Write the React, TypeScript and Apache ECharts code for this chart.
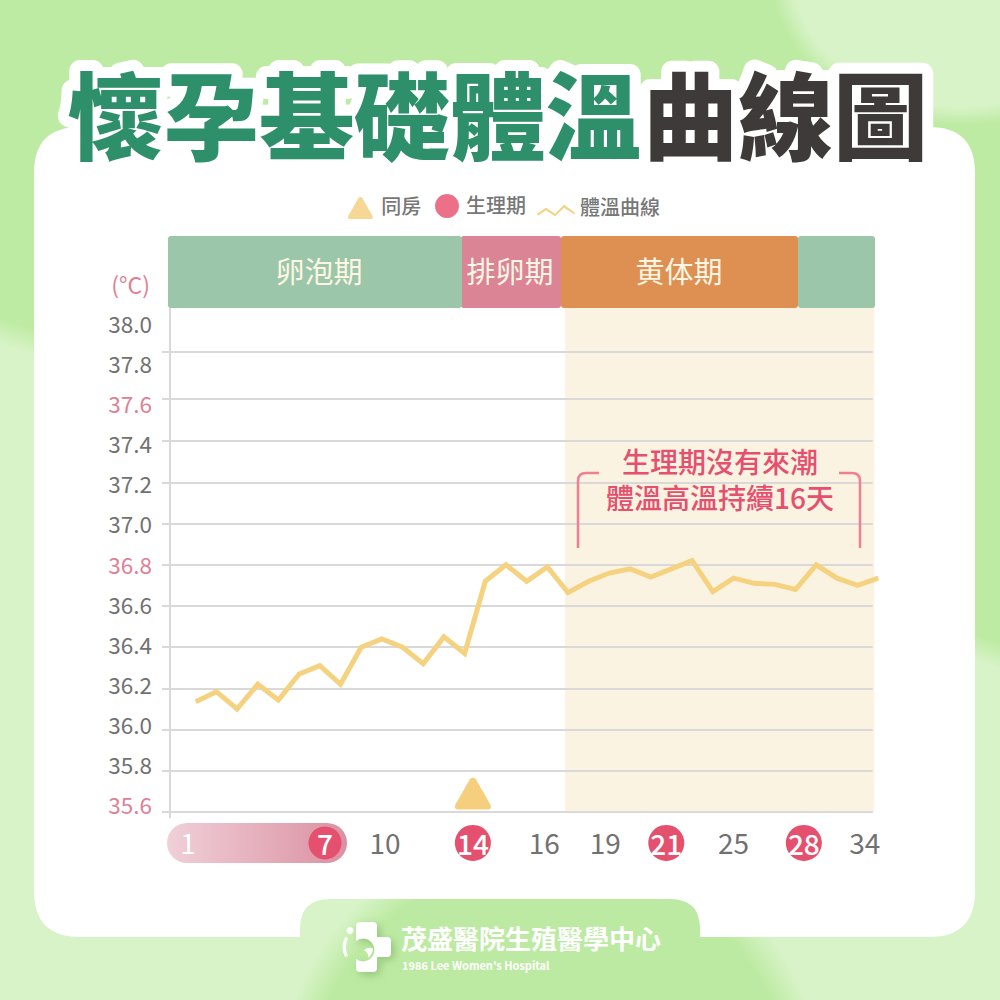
import React, { useEffect, useRef } from "react";
import * as echarts from "echarts";

const days = ["1","2","3","4","5","6","7","8","9","10","11","12","13","14","15","16","17","18","19","20","21","22","23","24","25","26","27","28","29","30","31","32","33","34"];
const temperatures = [36.135,36.184,36.1,36.22,36.144,36.27,36.31,36.22,36.4,36.44,36.4,36.32,36.45,36.37,36.72,36.8,36.72,36.79,36.665,36.72,36.76,36.78,36.74,36.78,36.82,36.67,36.735,36.71,36.705,36.68,36.8,36.735,36.7,36.735];
const gridLevels = [35.6,35.8,36.0,36.2,36.4,36.6,36.8,37.0,37.2,37.4,37.605,37.833];
const pinkTicks = ["37.6","36.8","35.6"];
const periodLabels = ["7","14","21","28"];
const periodPositions = [7.25,14.4,23.75,30.4];
const periodSizes = [33,36,36,36];
const plainLabels = ["1","10","16","19","25","34"];
const plainPositions = [0.63,10.15,17.85,20.8,27,33.35];
const intercourseDay = 14.4;
const phases = ["卵泡期","排卵期","黄体期",""];

const TRIANGLE = "path://M10 1.5 Q12 -1 14 1.5 L23.5 18 Q25 21.5 21.5 21.5 L2.5 21.5 Q-1 21.5 0.5 18 Z";
const WAVE = "path://M0 9 L9 3 L18 9 L27 0 L38 8 L38 10 L27 3 L18 11.5 L9 5.5 L1 11 Z";
const FONT = '"Noto Sans CJK TC","Noto Sans",sans-serif';
const BASE_LABEL = "(°C)";

echarts.graphic.registerShape("panel", echarts.graphic.extendPath("M80 127 L929 127 Q975 127 975 173 L975 891 Q975 937 929 937 L700 937 L700 929 Q700 899 670 899 L330 899 Q300 899 300 929 L300 937 L80 937 Q34 937 34 891 L34 173 Q34 127 80 127 Z", {}));
echarts.graphic.registerShape("bracketL", echarts.graphic.extendPath("M578 548 L578 481 Q578 473 586 473 L599 473", {}));
echarts.graphic.registerShape("bracketR", echarts.graphic.extendPath("M860 548 L860 481 Q860 473 852 473 L839 473", {}));
echarts.graphic.registerShape("logoCross", echarts.graphic.extendPath("M360 922 L373 922 Q377 922 377 926 L377 937 L387 937 Q391 937 391 941 L391 953 Q391 957 387 957 L377 957 L377 968 Q377 972 373 972 L360 972 Q356 972 356 968 L356 959.1 A 11.5 11.5 0 1 0 356 940.9 L356 926 Q356 922 360 922 Z", {}));
echarts.graphic.registerShape("logoArm", echarts.graphic.extendPath("M345 937 Q340 947 345 957 L348 956 Q344 947 348 938 Z", {}));
echarts.graphic.registerShape("logoBaby", echarts.graphic.extendPath("M364 950 Q370 946 373 949 Q372 955 368 958 Q369 953 364 950 Z", {}));

const footShadow = { shadowBlur: 8, shadowColor: "rgba(90,150,70,0.45)", shadowOffsetX: 3, shadowOffsetY: 3 };

export default function App() {
  const ref = useRef<HTMLDivElement>(null);
  useEffect(() => {
    const chart = echarts.init(ref.current!, undefined, { renderer: "svg" });
    const phaseRects = [[168,294,"#9BC6A9"],[461,100,"#DA8496"],[561,237,"#DE8F52"],[798,77,"#9BC6A9"]] as const;
    const legendText = (bottom: number, pad: number) => ({
      rich: { t: { fontSize: 20, color: "#777", fontFamily: FONT, fontWeight: 500, padding: [0, 0, bottom, pad] } },
    });
    const legendFormat = "{t|{name}}";
    chart.setOption({
      animation: false,
      grid: [
        { left: 159.5, width: 718.8, top: 307.3, height: 545.9 },
        { left: 158, width: 700, top: 323, height: 481 },
      ],
      xAxis: [
        { type: "value", gridIndex: 0, min: -0.75, max: 34, show: false },
        { type: "value", gridIndex: 1, min: 0, max: 1, show: false },
      ],
      yAxis: [
        { type: "value", gridIndex: 0, min: 35.4, max: 38.05, show: false, splitLine: { show: false } },
        {
          type: "value", gridIndex: 1, min: 35.6, max: 38.0, interval: 0.2,
          name: BASE_LABEL, nameLocation: "end", nameGap: 39,
          nameTextStyle: { color: "#E08095", fontSize: 23, fontFamily: FONT, align: "right", verticalAlign: "middle", padding: [0, 8, 0, 0] },
          axisLine: { show: false }, axisTick: { show: false }, splitLine: { show: false },
          axisLabel: {
            margin: 6, fontSize: 22.5, fontFamily: FONT,
            formatter: (v: number) => v.toFixed(1),
            color: (v: any) => (pinkTicks.includes(Number(v).toFixed(1)) ? "#E08095" : "#727171"),
          },
        },
      ],
      legend: [
        { left: 348, top: 195, padding: 0, itemWidth: 26, itemHeight: 22, selectedMode: false, formatter: legendFormat, textStyle: legendText(6, 3),
          data: [{ name: "同房", icon: TRIANGLE, itemStyle: { color: "#F6D795" } }] },
        { left: 435, top: 194, padding: 0, itemWidth: 24, itemHeight: 24, selectedMode: false, formatter: legendFormat, textStyle: legendText(4, 2),
          data: [{ name: "生理期", icon: "circle", itemStyle: { color: "#EC7087" } }] },
        { left: 537, top: 196, padding: 0, itemWidth: 38, itemHeight: 12, selectedMode: false, formatter: legendFormat, textStyle: legendText(9, 0),
          data: [{ name: "體溫曲線", icon: WAVE, itemStyle: { color: "#F5D27F" } }] },
      ],
      series: [
        {
          name: "體溫曲線", type: "line", xAxisIndex: 0, yAxisIndex: 0, z: 3, symbol: "none", clip: false,
          data: temperatures.map((t, i) => [Number(days[i]), t]),
          lineStyle: { color: "#F5D27F", width: 5, join: "miter" },
          itemStyle: { color: "#F5D27F" },
          markArea: { silent: true, z: 0, itemStyle: { color: "#FBF3E2" }, data: [[{ xAxis: 18.86, yAxis: 38.05 }, { xAxis: 33.8, yAxis: 35.6 }]] },
          markLine: {
            silent: true, z: 1, symbol: "none", label: { show: false },
            lineStyle: { color: "#D9D9D9", width: 2, type: "solid" },
            data: [
              ...gridLevels.map((v) => [{ xAxis: -0.63, yAxis: v }, { xAxis: 33.73, yAxis: v }]),
              [{ xAxis: -0.26, yAxis: 38.05 }, { xAxis: -0.26, yAxis: 35.57 }],
            ],
          },
        },
        {
          name: "同房", type: "scatter", xAxisIndex: 0, yAxisIndex: 0, z: 4, clip: false,
          data: [[intercourseDay, 35.69]], symbol: TRIANGLE, symbolSize: [36, 32], itemStyle: { color: "#F5CF7D", opacity: 1 },
        },
        {
          name: "生理期", type: "scatter", xAxisIndex: 0, yAxisIndex: 0, z: 4, clip: false,
          data: periodPositions.map((p, i) => ({ value: [p, 35.45], name: periodLabels[i], symbolSize: periodSizes[i] })),
          symbol: "circle", itemStyle: { color: "#E5506F", opacity: 1 },
          label: { show: true, position: "inside", formatter: "{b}", color: "#fff", fontSize: 28, fontFamily: FONT, fontWeight: 500 },
        },
        {
          name: "日期", type: "scatter", xAxisIndex: 0, yAxisIndex: 0, z: 4, clip: false,
          data: plainPositions.map((p, i) => ({ value: [p, 35.455], name: plainLabels[i], label: { color: plainLabels[i] === "1" ? "#fff" : "#727171" } })),
          symbolSize: 1, itemStyle: { color: "transparent", opacity: 1 },
          label: { show: true, position: "inside", formatter: "{b}", fontSize: 28, fontFamily: FONT },
        },
      ],
      graphic: [
        { type: "panel", z: -10, style: { fill: "#fff" } },
        { type: "rect", z: -1, shape: { x: 167, y: 823, width: 180, height: 40, r: 20 },
          style: { fill: new echarts.graphic.LinearGradient(0, 0, 1, 0, [{ offset: 0, color: "#F0D0D8" }, { offset: 1, color: "#DB90A1" }]) } },
        ...phaseRects.map(([x, w, c], i) => ({ type: "rect", z: 5 - (i === 1 ? 1 : 0), shape: { x, y: 236, width: w, height: 72, r: 3 }, style: { fill: c } })),
        ...phases.map((t, i) => ({ type: "text", z: 6, style: { text: t, x: [319, 510, 679, 836][i], y: 270, fill: "#FDF6E3", font: `400 29px ${FONT}`, align: "center", verticalAlign: "middle" } })),
        { type: "text", z: 7, style: { text: "懷孕基礎體溫", x: 68, y: 111, fill: "#2E8F6B", font: `900 95.5px ${FONT}`, align: "left", verticalAlign: "middle", stroke: "#fff", lineWidth: 22 } },
        { type: "text", z: 7, style: { text: "曲線圖", x: 643, y: 111, fill: "#3E3A39", font: `900 95px ${FONT}`, align: "left", verticalAlign: "middle", stroke: "#fff", lineWidth: 22 } },
        { type: "text", z: 6, style: { text: "生理期沒有來潮\n體溫高溫持續16天", x: 720, y: 479, fill: "#E5506F", font: `500 28px ${FONT}`, lineHeight: 36, align: "center", verticalAlign: "middle" } },
        { type: "bracketL", z: 6, style: { fill: "none", stroke: "#F07F95", lineWidth: 2.5 } },
        { type: "bracketR", z: 6, style: { fill: "none", stroke: "#F07F95", lineWidth: 2.5 } },
        { type: "logoCross", z: 6, style: { fill: "#fff", ...footShadow } },
        { type: "logoBaby", z: 6, style: { fill: "#fff" } },
        { type: "circle", z: 6, shape: { cx: 350, cy: 930.5, r: 3.5 }, style: { fill: "#fff" } },
        { type: "logoArm", z: 6, style: { fill: "#fff" } },
        { type: "text", z: 6, style: { text: "茂盛醫院生殖醫學中心", x: 401, y: 937, fill: "#fff", font: `700 26px ${FONT}`, align: "left", verticalAlign: "middle", ...footShadow } },
        { type: "text", z: 6, style: { text: "1986 Lee Women's Hospital", x: 402, y: 965, fill: "#fff", font: `700 11px ${FONT}`, align: "left", verticalAlign: "middle" } },
      ],
    });
    return () => chart.dispose();
  }, []);
  const bg = [
    "radial-gradient(circle 275px at 550px 1100px, #BDEAA2 88%, rgba(189,234,162,0) 100%)",
    "radial-gradient(ellipse 190px 155px at 960px -30px, #D8F3C8 88%, rgba(216,243,200,0) 100%)",
    "linear-gradient(198deg, #BEEBA3 48.5%, #D8F3C8 50.5%)",
  ].join(",");
  return (
    <div style={{ position: "absolute", left: 0, top: 0, width: 1000, height: 1000, background: bg }}>
      <style>{`text{stroke-linejoin:round;}`}</style>
      <div ref={ref} style={{ width: 1000, height: 1000 }} />
    </div>
  );
}
